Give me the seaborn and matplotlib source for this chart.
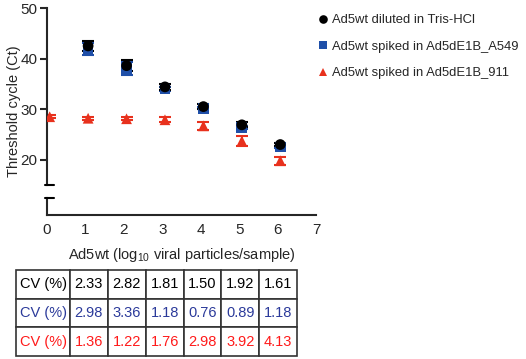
import numpy as np
import pandas as pd
import matplotlib
matplotlib.use('Agg')
import matplotlib.pyplot as plt
import seaborn as sns

names = ['Ad5wt diluted in Tris-HCl', 'Ad5wt spiked in Ad5dE1B_A549',
         'Ad5wt spiked in Ad5dE1B_911']
colors = ['#000000', '#1f4fa8', '#e8311d']
markers = ['o', 's', '^']

x_tris = [1.07, 2.07, 3.07, 4.07, 5.07, 6.07]
ct_tris = [42.5, 38.6, 34.4, 30.5, 26.9, 23.0]
sd_tris = [1.0, 1.1, 0.6, 0.46, 0.5, 0.37]

x_a549 = [1.07, 2.07, 3.07, 4.07, 5.07, 6.07]
ct_a549 = [41.9, 38.1, 34.0, 30.2, 26.4, 22.5]
sd_a549 = [1.25, 1.3, 0.4, 0.23, 0.23, 0.27]

x_911 = [0.07, 1.07, 2.07, 3.07, 4.07, 5.07, 6.07]
ct_911 = [28.5, 28.2, 28.1, 27.9, 26.7, 23.7, 19.8]
sd_911 = [0.3, 0.34, 0.34, 0.49, 0.8, 0.93, 0.82]

row_label = 'CV (%)'
cv_tris = ['2.33', '2.82', '1.81', '1.50', '1.92', '1.61']
cv_a549 = ['2.98', '3.36', '1.18', '0.76', '0.89', '1.18']
cv_911 = ['1.36', '1.22', '1.76', '2.98', '3.92', '4.13']
table_colors = ['#000000', '#2b3a9a', '#ff1a1a']

# blue first so the black circles sit on top of the squares
df = pd.concat([
    pd.DataFrame({'x': x_a549, 'ct': ct_a549, 'sd': sd_a549, 'group': names[1]}),
    pd.DataFrame({'x': x_tris, 'ct': ct_tris, 'sd': sd_tris, 'group': names[0]}),
    pd.DataFrame({'x': x_911, 'ct': ct_911, 'sd': sd_911, 'group': names[2]}),
], ignore_index=True)

sns.set_style('ticks')
plt.rcParams['font.family'] = ['Liberation Sans', 'DejaVu Sans']
plt.rcParams['mathtext.fontset'] = 'custom'
plt.rcParams['mathtext.rm'] = 'Liberation Sans'

fig = plt.figure(figsize=(5.26, 3.59), dpi=100)
W, H = 526, 359
ax = fig.add_axes([47 / W, 1 - 185 / H, 269 / W, 177 / H])
ax2 = fig.add_axes([47 / W, 1 - 215 / H, 269 / W, 17 / H])

# error bars under the markers
for g, c in zip([names[1], names[0], names[2]], [colors[1], colors[0], colors[2]]):
    d = df[df['group'] == g]
    ax.errorbar(d['x'], d['ct'], yerr=d['sd'], fmt='none', ecolor=c,
                elinewidth=1.5, capsize=4, capthick=1.5, zorder=2)

sns.scatterplot(data=df, x='x', y='ct', hue='group', style='group',
                palette=colors, markers=markers, hue_order=names,
                style_order=names, s=60, linewidth=0, ax=ax, zorder=3,
                legend=True)

ax.set_xlim(0, 7)
ax.set_ylim(15, 50)
ax.set_yticks([20, 30, 40, 50])
ax.set_xticks([])
ax.set_xlabel('')
ax.set_ylabel('')
for s in ['top', 'right', 'bottom']:
    ax.spines[s].set_visible(False)
ax.spines['left'].set_linewidth(1.5)
ax.tick_params(axis='y', width=1.5, length=5, labelsize=11, pad=2)

ax2.set_xlim(0, 7)
ax2.set_ylim(0, 1)
ax2.set_yticks([])
ax2.set_xticks(range(0, 8))
for s in ['top', 'right']:
    ax2.spines[s].set_visible(False)
ax2.spines['left'].set_linewidth(1.5)
ax2.spines['bottom'].set_linewidth(1.5)
ax2.tick_params(axis='x', width=1.5, length=0, labelsize=11, pad=6)
ax2.set_xlabel('Ad5wt (log$_{10}$ viral particles/sample)', fontsize=10.5,
               labelpad=6)

# break marks on the y axis
fig.add_artist(plt.Line2D([45 / W, 54 / W], [1 - 185 / H] * 2,
                          color='black', lw=1.5))
fig.add_artist(plt.Line2D([45 / W, 54 / W], [1 - 198 / H] * 2,
                          color='black', lw=1.5))

fig.text(14 / W, 1 - 111 / H, 'Threshold cycle (Ct)', rotation=90,
         ha='center', va='center', fontsize=10.5)

handles, labels = ax.get_legend_handles_labels()
ax.get_legend().remove()
fig.legend(handles, labels, loc='upper left', bbox_to_anchor=(316 / W, 1 - 14 / H),
           frameon=False, fontsize=9.4, handletextpad=0.2, labelspacing=1.1,
           handlelength=1.0, markerscale=0.8, borderaxespad=0, borderpad=0)

# CV table
tax = fig.add_axes([16 / W, 1 - 356 / H, 281 / W, 86 / H])
tax.axis('off')
cells = [[row_label] + cv_tris, [row_label] + cv_a549, [row_label] + cv_911]
tbl = tax.table(cellText=cells, cellLoc='center', bbox=[0, 0, 1, 1],
                colWidths=[54 / 281] + [227 / 281 / 6] * 6)
tbl.auto_set_font_size(False)
for (r, c), cell in tbl.get_celld().items():
    cell.set_linewidth(1.2)
    cell.set_edgecolor('#333333')
    cell.get_text().set_color(table_colors[r])
    cell.get_text().set_fontsize(10.5)

fig.savefig('out.png', dpi=100)
